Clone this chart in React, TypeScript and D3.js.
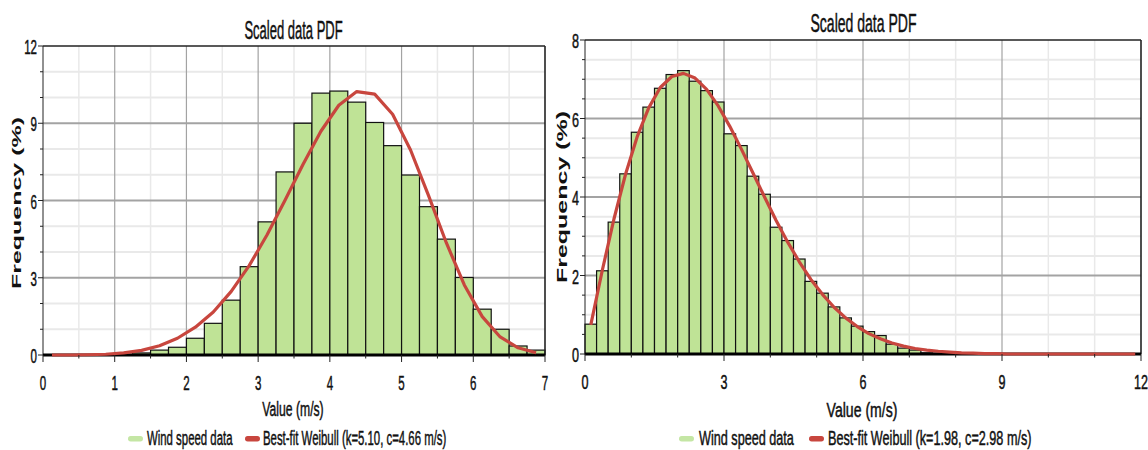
import React from 'react';
import * as d3 from 'd3';

// histogram bins are 0.25 m/s wide, values in %
const leftFreq = [0, 0, 0, 0, 0.03, 0.08, 0.19, 0.3, 0.65, 1.23, 2.13, 3.43, 5.17, 7.11,
  9.0, 10.17, 10.25, 9.82, 9.03, 8.13, 6.99, 5.76, 4.5, 3.01, 1.78, 1.0, 0.35, 0.19];
// fitted curve read at bin centres
const leftFit = [0, 0, 0.01, 0.03, 0.08, 0.18, 0.36, 0.65, 1.08, 1.67, 2.47, 3.47, 4.67, 6.01,
  7.4, 8.69, 9.7, 10.23, 10.13, 9.35, 7.96, 6.2, 4.35, 2.72, 1.49, 0.7, 0.28, 0.09];

const rightFreq = [0.76, 2.12, 3.36, 4.59, 5.65, 6.29, 6.77, 7.12, 7.22, 6.95, 6.71, 6.42,
  5.61, 5.31, 4.53, 4.07, 3.23, 2.89, 2.42, 1.85, 1.55, 1.2, 0.92, 0.71, 0.57, 0.47, 0.25,
  0.15, 0.1, 0.03, 0.02, 0, 0, 0, 0, 0, 0, 0, 0, 0, 0, 0, 0, 0, 0, 0, 0, 0];
const rightFit = [0.74, 2.14, 3.44, 4.58, 5.53, 6.27, 6.79, 7.07, 7.15, 7.03, 6.74, 6.32,
  5.8, 5.22, 4.61, 4.0, 3.4, 2.85, 2.35, 1.9, 1.52, 1.19, 0.92, 0.7, 0.52, 0.39, 0.28,
  0.2, 0.14, 0.1, 0.07, 0.05, 0.03, 0.02, 0.01, 0.01, 0, 0, 0, 0, 0, 0, 0, 0, 0, 0, 0, 0];

const leftXTicks = [0, 1, 2, 3, 4, 5, 6, 7];
const leftYTicks = [0, 3, 6, 9, 12];
const rightXTicks = [0, 3, 6, 9, 12];
const rightYTicks = [0, 2, 4, 6, 8];

const titleText = 'Scaled data PDF';
const xTitle = 'Value (m/s)';
const yTitle = 'Frequency (%)';
const legendBars = 'Wind speed data';
const leftFitLabel = 'Best-fit Weibull (k=5.10, c=4.66 m/s)';
const rightFitLabel = 'Best-fit Weibull (k=1.98, c=2.98 m/s)';

const FONT = '"Liberation Sans", Arial, sans-serif';
const GREEN = '#bfe396';
const RED = '#c8463e';
const INK = '#111';

const panels = [
  {
    freq: leftFreq, fit: leftFit, binW: 0.25, xMax: 7, yMax: 12,
    xTicks: leftXTicks, yTicks: leftYTicks, xMinor: 0.5, yMinor: 1,
    left: 43, right: 545, top: 46, bottom: 355,
    tickSx: 0.55,
    title: { cx: 293.5, y: 39, sx: 0.5 },
    xt: { cx: 293, y: 416, sx: 0.58 },
    yt: { cx: 17, cy: 203, sx: 0.5 },
    legend: { g: 128, t1: 147, r: 245, t2: 263, sx: 0.543 },
    fitLabel: leftFitLabel,
  },
  {
    freq: rightFreq, fit: rightFit, binW: 0.25, xMax: 12, yMax: 8,
    xTicks: rightXTicks, yTicks: rightYTicks, xMinor: 1, yMinor: 0.5,
    left: 585, right: 1141, top: 40, bottom: 354,
    tickSx: 0.6,
    title: { cx: 863.5, y: 32, sx: 0.54 },
    xt: { cx: 862, y: 417, sx: 0.67 },
    yt: { cx: 563, cy: 197, sx: 0.55 },
    legend: { g: 679, t1: 699, r: 809, t2: 828, sx: 0.602 },
    fitLabel: rightFitLabel,
  },
];

const SText = ({ x, y, sx, size, anchor, weight, rotate, children }: any) => (
  <text transform={`translate(${x},${y}) scale(${sx},1)${rotate ? ' rotate(-90)' : ''}`}
    textAnchor={anchor || 'start'} fontFamily={FONT} fontSize={size} fontWeight={weight || 'normal'}
    fill={INK} stroke={INK} strokeWidth={0.5}>
    {children}
  </text>
);

const Panel = ({ p }: any) => {
  const x = d3.scaleLinear().domain([0, p.xMax]).range([p.left, p.right]);
  const y = d3.scaleLinear().domain([0, p.yMax]).range([p.bottom, p.top]);

  const xMinor = d3.range(0, p.xMax + 1e-9, p.xMinor).filter((v: number) => !p.xTicks.includes(v));
  const yMinor = d3.range(0, p.yMax + 1e-9, p.yMinor).filter((v: number) => !p.yTicks.includes(v));

  const line = d3.line<number>()
    .x((d, i) => x((i + 0.5) * p.binW))
    .y(d => y(d));

  return (
    <g>
      {/* grid */}
      {xMinor.map((v: number) => (
        <line key={'xm' + v} x1={x(v)} x2={x(v)} y1={p.top} y2={p.bottom} stroke="#e9e9e9" strokeWidth={1.5} />
      ))}
      {yMinor.map((v: number) => (
        <line key={'ym' + v} x1={p.left} x2={p.right} y1={y(v)} y2={y(v)} stroke="#e9e9e9" strokeWidth={2} />
      ))}
      {p.xTicks.slice(1, -1).map((v: number) => (
        <line key={'xg' + v} x1={x(v)} x2={x(v)} y1={p.top} y2={p.bottom} stroke="#a3a3a3" strokeWidth={1.2} />
      ))}
      {p.yTicks.slice(1, -1).map((v: number) => (
        <line key={'yg' + v} x1={p.left} x2={p.right} y1={y(v)} y2={y(v)} stroke="#a3a3a3" strokeWidth={1.8} />
      ))}

      {/* bars */}
      {p.freq.map((d: number, i: number) => d > 0 && (
        <rect key={'b' + i} x={x(i * p.binW)} y={y(d)} width={x(p.binW) - x(0)} height={y(0) - y(d)}
          fill={GREEN} stroke="#111" strokeWidth={1.2} />
      ))}

      {/* frame */}
      <line x1={p.left} x2={p.right} y1={p.top} y2={p.top} stroke="#222" strokeWidth={1.6} />
      <line x1={p.right} x2={p.right} y1={p.top} y2={p.bottom} stroke="#222" strokeWidth={1.6} />
      <line x1={p.left} x2={p.left} y1={p.top} y2={p.bottom} stroke="#222" strokeWidth={1} />
      <line x1={p.left} x2={p.right} y1={p.bottom} y2={p.bottom} stroke="#000" strokeWidth={3} />

      {/* fitted curve */}
      <path d={line(p.fit) || ''} fill="none" stroke={RED} strokeWidth={3.2} strokeLinejoin="round" />

      {/* ticks */}
      {p.xTicks.map((v: number) => (
        <g key={'xt' + v}>
          <line x1={x(v)} x2={x(v)} y1={p.bottom} y2={p.bottom + 7} stroke="#222" strokeWidth={1} />
          <SText x={x(v)} y={p.bottom + 35} sx={p.tickSx} size={21} anchor="middle">{v}</SText>
        </g>
      ))}
      {xMinor.map((v: number) => (
        <line key={'xmt' + v} x1={x(v)} x2={x(v)} y1={p.bottom} y2={p.bottom + 3.5} stroke="#222" strokeWidth={1} />
      ))}
      {p.yTicks.map((v: number) => (
        <g key={'yt' + v}>
          <line x1={p.left - 5} x2={p.left} y1={y(v)} y2={y(v)} stroke="#222" strokeWidth={1} />
          <SText x={p.left - 6} y={y(v) + 8} sx={p.tickSx} size={21} anchor="end">{v}</SText>
        </g>
      ))}
      {yMinor.map((v: number) => (
        <line key={'ymt' + v} x1={p.left - 3} x2={p.left} y1={y(v)} y2={y(v)} stroke="#222" strokeWidth={1} />
      ))}

      {/* titles */}
      <SText x={p.title.cx} y={p.title.y} sx={p.title.sx} size={26} anchor="middle">{titleText}</SText>
      <SText x={p.xt.cx} y={p.xt.y} sx={p.xt.sx} size={21} anchor="middle">{xTitle}</SText>
      <g transform={`translate(${p.yt.cx + 4},${p.yt.cy}) scale(${p.yt.sx},1) rotate(-90)`}>
        <text x={0} y={0} textAnchor="middle" fontFamily={FONT} fontSize={25} fontWeight="bold"
          fill={INK}>{yTitle}</text>
      </g>

      {/* legend */}
      <rect x={p.legend.g} y={436} width={15} height={5.5} rx={2.7} fill="#c4e6a4" />
      <SText x={p.legend.t1} y={445} sx={p.legend.sx} size={21}>{legendBars}</SText>
      <rect x={p.legend.r} y={436} width={15} height={5.5} rx={2.7} fill={RED} />
      <SText x={p.legend.t2} y={445} sx={p.legend.sx} size={21}>{p.fitLabel}</SText>
    </g>
  );
};

export default function App() {
  return (
    <svg width={1148} height={450} style={{ position: 'absolute', left: 0, top: 0, background: '#fff' }}>
      <rect width={1148} height={450} fill="#fff" />
      {panels.map((p, i) => <Panel key={i} p={p} />)}
    </svg>
  );
}
